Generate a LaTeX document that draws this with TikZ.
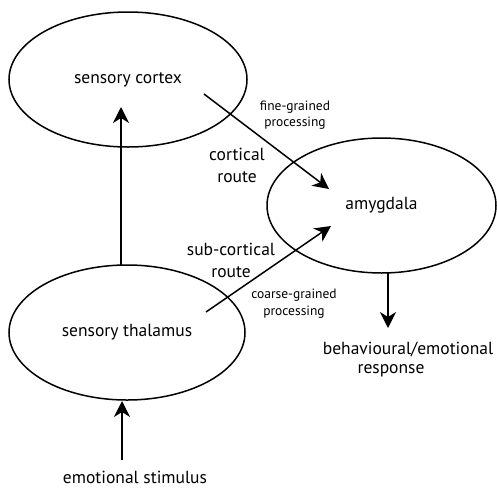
\documentclass[tikz,border=0pt]{standalone}
\usepackage{fontspec}
\setmainfont{PT Sans}
\usetikzlibrary{shapes.geometric,arrows.meta}
\tikzset{
  region/.style={draw,ellipse,line width=1.5pt,inner sep=0pt,font=\fontsize{17.5}{21}\selectfont},
  bigtext/.style={font=\fontsize{17.5}{22}\selectfont,align=center,inner sep=0pt},
  smalltext/.style={font=\fontsize{13.5}{16.5}\selectfont,align=center,inner sep=0pt},
  route/.style={-{Stealth[length=16pt,width=16pt,inset=5pt]},line width=1.5pt}
}
\begin{document}
\begin{tikzpicture}[x=1pt,y=-1pt]
        \useasboundingbox (0,0) rectangle (497,490);
        \begin{scope}[every node/.style={region}]
          \node[minimum width=238pt,minimum height=135pt] at (128,79.5) (cortex){sensory cortex};
          \node[minimum width=236pt,minimum height=135pt] at (127,332.5) (thalamus){sensory thalamus};
          \node[minimum width=229pt,minimum height=135pt] at (381.5,205.5) (amygdala){amygdala};
        \end{scope}

        \begin{scope}[every node/.style={bigtext}]
          \node at (237,165) (cortroute){cortical\\route};
          \node at (231,260) (subroute){sub-cortical\\route};
          \node at (408,349) (behav){behavioural/emotional};
          \node at (391,371) (resp){response};
          \node at (135,477) (stimulus){emotional stimulus};
        \end{scope}

        \begin{scope}[every node/.style={smalltext}]
          \node at (295,115) (fine){fine-grained\\processing};
          \node at (294,303.5) (coarse){coarse-grained\\processing};
        \end{scope}

        \coordinate (thaltop) at (121,265);
        \coordinate (ctxtip) at (121,107);
        \coordinate (ctxout) at (204,94);
        \coordinate (amyfine) at (329,189);
        \coordinate (thalout) at (206,312);
        \coordinate (amycoarse) at (331,226);
        \coordinate (amybot) at (388,273);
        \coordinate (resptip) at (388,328);
        \coordinate (stimtop) at (122,460);
        \coordinate (thalbot) at (122,401);

        \begin{scope}[route]
          \path (thaltop) edge (ctxtip);
          \path (ctxout) edge (amyfine);
          \path (thalout) edge (amycoarse);
          \path (amybot) edge (resptip);
          \path (stimtop) edge (thalbot);
        \end{scope}
      \end{tikzpicture}
\end{document}
